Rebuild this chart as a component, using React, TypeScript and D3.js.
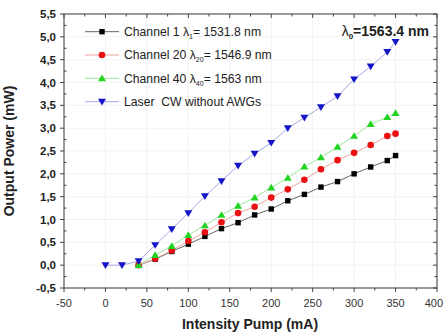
import React from "react";
import * as d3 from "d3";

const pumpLaser = [0, 20, 40, 60, 80, 100, 120, 140, 160, 180, 200, 220, 240, 260, 280, 300, 320, 340, 350];
const laserCW = [0, 0, 0.09, 0.44, 0.79, 1.14, 1.51, 1.84, 2.18, 2.44, 2.68, 3.0, 3.23, 3.46, 3.7, 4.07, 4.35, 4.67, 4.89];

const pumpCh = [40, 60, 80, 100, 120, 140, 160, 180, 200, 220, 240, 260, 280, 300, 320, 340, 350];
const ch1 = [0, 0.13, 0.3, 0.46, 0.63, 0.8, 0.93, 1.1, 1.23, 1.41, 1.55, 1.71, 1.83, 2.0, 2.15, 2.29, 2.4];
const ch20 = [0, 0.14, 0.32, 0.53, 0.72, 0.94, 1.14, 1.28, 1.48, 1.66, 1.87, 2.1, 2.3, 2.46, 2.63, 2.83, 2.88];
const ch40 = [0, 0.22, 0.42, 0.66, 0.87, 1.1, 1.3, 1.48, 1.7, 1.91, 2.16, 2.36, 2.59, 2.83, 3.09, 3.24, 3.33];

const xTicks = [-50, 0, 50, 100, 150, 200, 250, 300, 350, 400];
const yTicks = [-0.5, 0, 0.5, 1, 1.5, 2, 2.5, 3, 3.5, 4, 4.5, 5, 5.5];

const legendNames = ["Channel 1 ", "Channel 20 ", "Channel 40 ", "Laser\u00a0\u00a0CW without AWGs"];
const legendSubs = ["1", "20", "40", ""];
const legendTails = ["= 1531.8 nm", "= 1546.9 nm", "= 1563 nm", ""];

const FONT = "'Liberation Sans', Arial, sans-serif";

export default function App() {
  const W = 444, H = 336;
  const L = 64, R = 437, T = 14, B = 288;
  const x = d3.scaleLinear().domain([-50, 400]).range([L, R]);
  const y = d3.scaleLinear().domain([-0.5, 5.5]).range([B, T]);
  const line = d3.line<[number, number]>().x(d => x(d[0])).y(d => y(d[1]));

  const series = [
    { xs: pumpCh, ys: ch1, lineColor: "#666", color: "#000", shape: "square" },
    { xs: pumpCh, ys: ch20, lineColor: "#f2a0a0", color: "#e81010", shape: "circle" },
    { xs: pumpCh, ys: ch40, lineColor: "#9be69b", color: "#22d422", shape: "up" },
    { xs: pumpLaser, ys: laserCW, lineColor: "#a8a8e8", color: "#1414c8", shape: "down" },
  ];

  const marker = (shape: string, cx: number, cy: number, color: string, key: any) => {
    if (shape === "square") return <rect key={key} x={cx - 2.7} y={cy - 2.7} width={5.4} height={5.4} fill={color} />;
    if (shape === "circle") return <circle key={key} cx={cx} cy={cy} r={3.3} fill={color} />;
    if (shape === "up") return <path key={key} d={`M${cx},${cy - 3.8}L${cx + 4},${cy + 2.9}L${cx - 4},${cy + 2.9}Z`} fill={color} />;
    return <path key={key} d={`M${cx},${cy + 3.8}L${cx + 4},${cy - 2.9}L${cx - 4},${cy - 2.9}Z`} fill={color} />;
  };

  const xMinor = d3.range(-25, 400, 50);
  const yMinor = d3.range(-0.25, 5.5, 0.5);
  const fmt = (v: number) => d3.format(".1f")(v).replace(".", ",").replace("−", "-");

  const legendY = [31.7, 55, 78.3, 101.7];

  return (
    <svg width={W} height={H} style={{ position: "absolute", left: 0, top: 0, background: "#fff" }} fontFamily={FONT}>
      <rect x={0} y={0} width={W} height={H} fill="#fff" />
      {xTicks.slice(1, -1).map(t => (
        <line key={"gx" + t} x1={x(t)} x2={x(t)} y1={T} y2={B} stroke="#f2f2f2" strokeWidth={1} />
      ))}
      {yTicks.slice(1, -1).map(t => (
        <line key={"gy" + t} x1={L} x2={R} y1={y(t)} y2={y(t)} stroke="#f2f2f2" strokeWidth={1} />
      ))}
      {series.map((s, i) => (
        <g key={"s" + i}>
          <path d={line(s.xs.map((v, j) => [v, s.ys[j]] as [number, number])) || ""} fill="none" stroke={s.lineColor} strokeWidth={1} />
          {s.xs.map((v, j) => marker(s.shape, x(v), y(s.ys[j]), s.color, j))}
        </g>
      ))}
      <rect x={L} y={T} width={R - L} height={B - T} fill="none" stroke="#555" strokeWidth={1.2} />
      {xTicks.map(t => (
        <g key={"xt" + t}>
          <line x1={x(t)} x2={x(t)} y1={B} y2={B + 4} stroke="#444" />
          <line x1={x(t)} x2={x(t)} y1={T} y2={T + 4} stroke="#444" />
          <text x={t === 400 ? 443 : x(t)} y={307} textAnchor={t === 400 ? "end" : "middle"} fontSize={11} fill="#333">{t}</text>
        </g>
      ))}
      {xMinor.map(t => (
        <g key={"xm" + t}>
          <line x1={x(t)} x2={x(t)} y1={B} y2={B + 2.5} stroke="#444" />
          <line x1={x(t)} x2={x(t)} y1={T} y2={T + 2.5} stroke="#444" />
        </g>
      ))}
      {yTicks.map(t => (
        <g key={"yt" + t}>
          <line x1={L - 4} x2={L} y1={y(t)} y2={y(t)} stroke="#444" />
          <line x1={R - 4} x2={R} y1={y(t)} y2={y(t)} stroke="#444" />
          <text x={56} y={y(t) + 4} textAnchor="end" fontSize={11.5} fontWeight="bold" fill="#222">{fmt(t)}</text>
        </g>
      ))}
      {yMinor.map(t => (
        <g key={"ym" + t}>
          <line x1={L} x2={L + 2.5} y1={y(t)} y2={y(t)} stroke="#444" />
          <line x1={R - 2.5} x2={R} y1={y(t)} y2={y(t)} stroke="#444" />
        </g>
      ))}
      <text x={250} y={329} textAnchor="middle" fontSize={14} fontWeight="bold" fill="#222">Intensity Pump (mA)</text>
      <text transform={`translate(14,${(T + B) / 2}) rotate(-90)`} textAnchor="middle" fontSize={14} fontWeight="bold" fill="#222">Output Power (mW)</text>
      {series.map((s, i) => (
        <g key={"lg" + i}>
          <line x1={85} x2={119} y1={legendY[i]} y2={legendY[i]} stroke={s.lineColor} />
          {marker(s.shape, 102, legendY[i], s.color, "m")}
          <text x={124} y={legendY[i] + 4.2} fontSize={12.2} fill="#222">
            {legendNames[i]}
            {legendSubs[i] && <tspan>λ</tspan>}
            {legendSubs[i] && <tspan fontSize={7} dy={3}>{legendSubs[i]}</tspan>}
            {legendTails[i] && <tspan dy={-3}>{legendTails[i]}</tspan>}
          </text>
        </g>
      ))}
      <text x={429} y={36} textAnchor="end" fontSize={14} fontWeight="bold" fill="#222">
        <tspan fontWeight="normal">λ</tspan>
        <tspan fontSize={8} dy={3}>0</tspan>
        <tspan dy={-3}>=1563.4 nm</tspan>
      </text>
    </svg>
  );
}
